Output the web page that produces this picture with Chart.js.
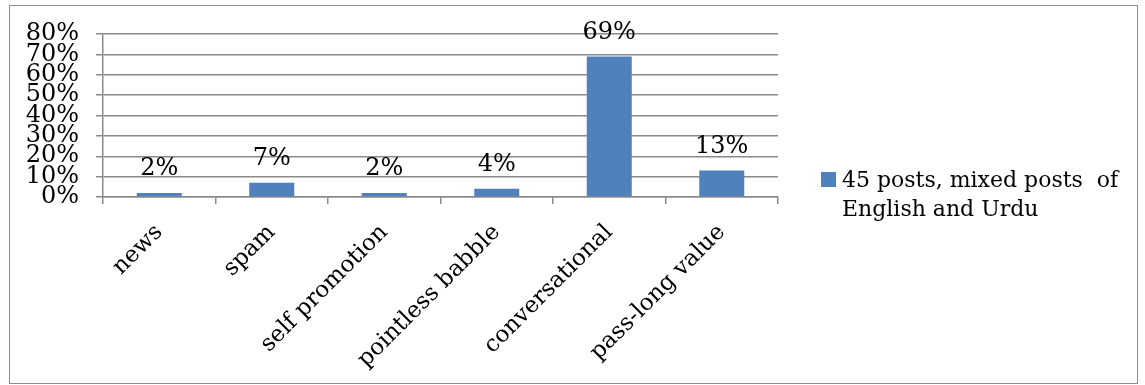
<!DOCTYPE html>
<html>
<head>
<meta charset="utf-8">
<script src="https://cdn.jsdelivr.net/npm/chart.js@4.4.0/dist/chart.umd.min.js"></script>
<style>
  body { margin: 0; background: #fff; }
  #wrap { position: relative; width: 1145px; height: 385px; }
</style>
</head>
<body>
<div id="wrap"><canvas id="postChart" width="1145" height="385"></canvas></div>
<script>
// categories + values (percent)
var categories = ['news', 'spam', 'self promotion', 'pointless babble', 'conversational', 'pass-long value'];
var postShare = [2, 7, 2, 4, 69, 13];
var seriesName = '45 posts, mixed posts  of English and Urdu';
var legendLines = ['45 posts, mixed posts  of', 'English and Urdu'];
var yTicks = [0, 10, 20, 30, 40, 50, 60, 70, 80];

var barBlue = '#4F81BD';
var gridGrey = '#8a8a8a';
var serif = "'DejaVu Serif', serif";

// frame round the whole picture
var framePlugin = {
    id: 'frame',
    beforeDraw: function (chart) {
        var c = chart.ctx;
        c.save();
        c.strokeStyle = '#8e8e8e';
        c.lineWidth = 1;
        c.strokeRect(9.5, 5.5, 1128, 378);
        c.restore();
    }
};

// value labels above bars
var valueLabels = {
    id: 'valueLabels',
    afterDatasetsDraw: function (chart) {
        var c = chart.ctx;
        var meta = chart.getDatasetMeta(0);
        c.save();
        c.font = '24px ' + serif;
        c.fillStyle = '#000';
        c.textAlign = 'center';
        c.textBaseline = 'bottom';
        meta.data.forEach(function (bar, i) {
            c.fillText(chart.data.datasets[0].data[i] + '%', bar.x, bar.y - 12);
        });
        c.restore();
    }
};

// legend on the right, two lines
var sideLegend = {
    id: 'sideLegend',
    afterDraw: function (chart) {
        var c = chart.ctx;
        c.save();
        c.fillStyle = barBlue;
        c.fillRect(821, 172, 15, 15);
        c.fillStyle = '#000';
        c.font = '22px ' + serif;
        c.textAlign = 'left';
        c.textBaseline = 'middle';
        legendLines.forEach(function (line, i) {
            c.fillText(line, 842, 181 + i * 29);
        });
        c.restore();
    }
};

const ctx = document.getElementById('postChart').getContext('2d');
const postChart = new Chart(ctx, {
    type: 'bar',
    data: {
        labels: categories,
        datasets: [{
            label: seriesName,
            data: postShare,
            backgroundColor: barBlue,
            borderWidth: 0,
            categoryPercentage: 1,
            barPercentage: 0.4
        }]
    },
    options: {
        responsive: false,
        animation: false,
        devicePixelRatio: 1,
        layout: { padding: { top: 34, right: 367, left: 0, bottom: 0 } },
        plugins: {
            legend: { display: false },
            tooltip: { enabled: false }
        },
        scales: {
            x: {
                grid: {
                    offset: true,
                    drawOnChartArea: false,
                    drawTicks: true,
                    tickLength: 7,
                    lineWidth: 1.5,
                    color: gridGrey
                },
                border: { color: gridGrey, width: 1.5 },
                ticks: {
                    color: '#000',
                    font: { family: serif, size: 23 },
                    minRotation: 45,
                    maxRotation: 45,
                    autoSkip: false,
                    padding: 15
                },
                afterFit: function (scale) { scale.height = 385 - 197; }
            },
            y: {
                min: 0,
                max: 80,
                afterBuildTicks: function (scale) {
                    scale.ticks = yTicks.map(function (v) { return { value: v }; });
                },
                grid: {
                    color: gridGrey,
                    tickLength: 7,
                    lineWidth: 1.5
                },
                border: { color: gridGrey, width: 1.5 },
                ticks: {
                    color: '#000',
                    font: { family: serif, size: 24, lineHeight: 1 },
                    autoSkip: false,
                    padding: 17,
                    callback: function (v) { return v + '%'; }
                },
                afterFit: function (scale) { scale.width = 103; }
            }
        }
    },
    plugins: [framePlugin, valueLabels, sideLegend]
});
</script>
</body>
</html>
